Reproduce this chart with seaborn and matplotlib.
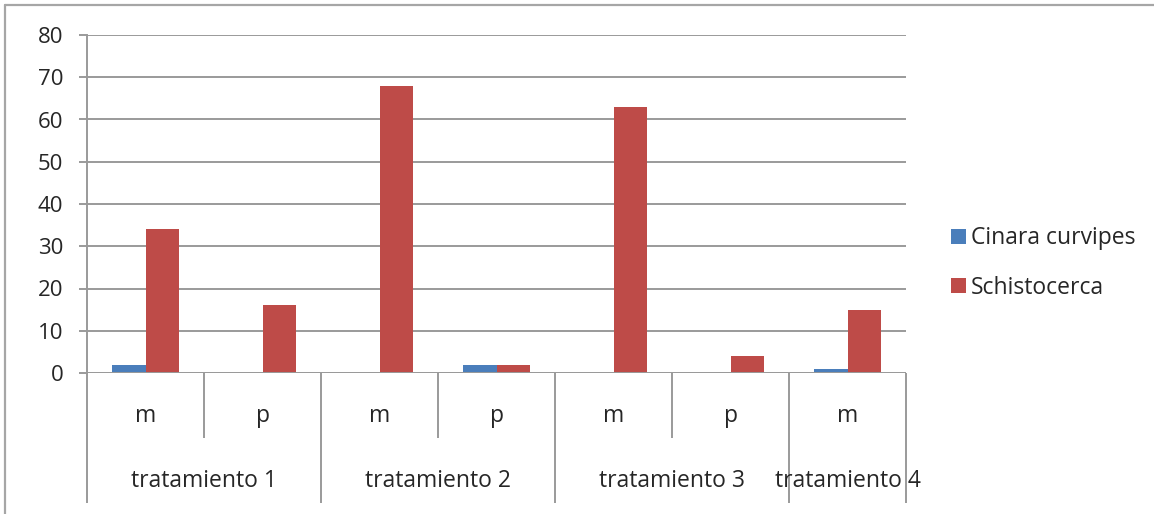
import matplotlib
matplotlib.use("Agg")
import matplotlib.pyplot as plt
from matplotlib.lines import Line2D
import matplotlib.transforms as mtransforms
import seaborn as sns
import pandas as pd

# Data
groups = ["tratamiento 1", "tratamiento 1", "tratamiento 2", "tratamiento 2",
          "tratamiento 3", "tratamiento 3", "tratamiento 4"]
subcats = ["m", "p", "m", "p", "m", "p", "m"]
cinara_curvipes = [2, 0, 0, 2, 0, 0, 1]
schistocerca = [34, 16, 68, 2, 63, 4, 15]
series_names = ["Cinara curvipes", "Schistocerca"]
yticks = [0, 10, 20, 30, 40, 50, 60, 70, 80]

keys = [f"{g}|{s}|{i}" for i, (g, s) in enumerate(zip(groups, subcats))]
df = pd.DataFrame({
    "key": keys * 2,
    "value": cinara_curvipes + schistocerca,
    "serie": [series_names[0]] * len(keys) + [series_names[1]] * len(keys),
})

sns.set_theme(style="white")
plt.rcParams["font.family"] = ["Open Sans", "DejaVu Sans"]

GRID = "#9a9a9a"
TXT = "#262626"
FS = 16.5
FS_TICK = 16
palette = {series_names[0]: "#4A7EBB", series_names[1]: "#BE4B48"}

fig = plt.figure(figsize=(11.54, 5.14), dpi=100)
ax = fig.add_axes([87 / 1154, 1 - 373 / 514, (906 - 87) / 1154, (373 - 35) / 514])

sns.barplot(data=df, x="key", y="value", hue="serie", order=keys,
            hue_order=series_names, palette=palette, width=0.57,
            saturation=1, edgecolor="none", linewidth=0, ax=ax, legend=False)

ax.set_xlim(-0.5, len(keys) - 0.5)
ax.set_ylim(0, 80)
ax.set_yticks(yticks)
ax.set_yticklabels([str(v) for v in yticks], fontsize=FS_TICK, color=TXT)
ax.yaxis.grid(True, color=GRID, linewidth=1.4)
ax.set_axisbelow(True)
ax.tick_params(axis="y", direction="out", length=6, width=1.4, color=GRID, pad=11, left=True)
ax.tick_params(axis="x", bottom=False, labelbottom=False)
ax.set_xlabel("")
ax.set_ylabel("")
for side in ["top", "right", "bottom"]:
    ax.spines[side].set_visible(False)
ax.spines["left"].set_color(GRID)
ax.spines["left"].set_linewidth(1.4)
ax.axhline(0, color=GRID, linewidth=1.4, zorder=3)

# Two-level category axis below the plot
trans = mtransforms.blended_transform_factory(ax.transData, ax.transAxes)
ax_h_px = 373 - 35
y_inner = -(438 - 373) / ax_h_px
y_outer = -(503 - 373) / ax_h_px
y_sub = -(416 - 373) / ax_h_px
y_grp = -(481 - 373) / ax_h_px

for i, s in enumerate(subcats):
    ax.text(i, y_sub, s, transform=trans, ha="center", va="center", fontsize=FS, color=TXT)

edges = list(range(len(keys) + 1))
for e in edges:
    x = e - 0.5
    if e == 0 or e == len(keys) or groups[e] != groups[e - 1]:
        y_end = y_outer
    else:
        y_end = y_inner
    ax.plot([x, x], [0, y_end], transform=trans, color=GRID, linewidth=1.4,
            clip_on=False, solid_capstyle="butt")

start = 0
for i in range(1, len(groups) + 1):
    if i == len(groups) or groups[i] != groups[start]:
        center = (start + i - 1) / 2
        ax.text(center, y_grp, groups[start], transform=trans, ha="center", va="center",
                fontsize=FS, color=TXT)
        start = i

# Legend
handles = [plt.Rectangle((0, 0), 1, 1, facecolor=palette[n], edgecolor="none") for n in series_names]
fig.legend(handles, series_names, loc="center left", bbox_to_anchor=(930 / 1154, 1 - 263 / 514),
           frameon=False, fontsize=FS, labelcolor=TXT, handlelength=0.65, handleheight=0.65,
           handletextpad=0.25, labelspacing=1.1)

# Chart frame
fig.add_artist(Line2D([5 / 1154, 1], [1 - 5 / 514, 1 - 5 / 514], color="#a6a6a6", linewidth=1.6))
fig.add_artist(Line2D([5 / 1154, 5 / 1154], [0, 1 - 5 / 514], color="#a6a6a6", linewidth=1.6))

fig.savefig("out.png", dpi=100, facecolor="white")
